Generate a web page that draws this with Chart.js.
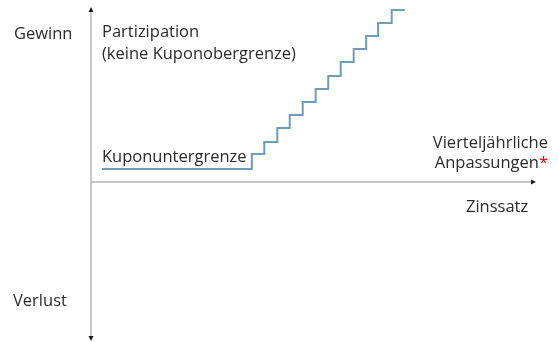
<!DOCTYPE html>
<html lang="de">
<head>
<meta charset="utf-8">
<script src="https://cdn.jsdelivr.net/npm/chart.js@4"></script>
<style>
  html, body { margin: 0; padding: 0; background: #fff; }
  #wrap { width: 558px; height: 342px; }
</style>
</head>
<body>
<div id="wrap"><canvas id="myChart"></canvas></div>
<script>
'use strict';

// Zinssatz-Stufen (x) und Kuponniveau (y), Einheit = eine vierteljährliche Anpassung
const rateSteps = [0.86, 12.65, 13.63, 14.65, 15.63, 16.65, 17.67, 18.66, 19.64, 20.66, 21.64, 22.58, 23.65, 24.67];
const couponLevels = [1, 2.14, 3.05, 4.12, 5.11, 6.1, 7.1, 8.09, 9.16, 10.15, 11.15, 12.14, 13.13, 13.13];

// Achsenbereich
const xRange = [0, 35];
const yRange = [-12.14, 13.36];

const points = rateSteps.map((x, i) => ({ x: x, y: couponLevels[i] }));

const textColor = '#2b2b2b';
const axisColor = '#b4b4b4';
const fontFamily = '"Open Sans", "Noto Sans", sans-serif';

// Achsen mit Pfeilspitzen
const axesPlugin = {
  id: 'axes',
  beforeDatasetsDraw(chart) {
    const c = chart.ctx;
    const xs = chart.scales.x;
    const ys = chart.scales.y;
    const x0 = xs.getPixelForValue(0);
    const y0 = ys.getPixelForValue(0);
    const top = ys.getPixelForValue(yRange[1]);
    const bottom = ys.getPixelForValue(yRange[0]);
    const right = xs.getPixelForValue(xRange[1]);

    c.save();
    c.strokeStyle = axisColor;
    c.lineWidth = 1.5;
    c.beginPath();
    c.moveTo(x0, top + 2);
    c.lineTo(x0, bottom - 2);
    c.moveTo(x0, y0);
    c.lineTo(right - 2, y0);
    c.stroke();

    c.fillStyle = '#1a1a1a';
    c.beginPath();
    c.moveTo(x0, top);
    c.lineTo(x0 - 2.5, top + 5);
    c.lineTo(x0 + 2.5, top + 5);
    c.closePath();
    c.fill();
    c.beginPath();
    c.moveTo(x0, bottom);
    c.lineTo(x0 - 2.5, bottom - 5);
    c.lineTo(x0 + 2.5, bottom - 5);
    c.closePath();
    c.fill();
    c.beginPath();
    c.moveTo(right, y0);
    c.lineTo(right - 5, y0 - 2.5);
    c.lineTo(right - 5, y0 + 2.5);
    c.closePath();
    c.fill();
    c.restore();
  }
};

// Beschriftungen
const labelsPlugin = {
  id: 'labels',
  afterDraw(chart) {
    const c = chart.ctx;
    c.save();
    c.font = '16.5px ' + fontFamily;
    c.fillStyle = textColor;
    c.textBaseline = 'alphabetic';
    c.textAlign = 'left';
    c.fillText('Gewinn', 14, 39);
    c.fillText('Verlust', 13, 306);
    c.fillText('Partizipation', 102, 37);
    c.fillText('(keine Kuponobergrenze)', 102, 59);
    c.fillText('Kuponuntergrenze', 102, 162);
    c.fillText('Zinssatz', 466, 212);

    c.textAlign = 'right';
    c.fillText('Vierteljährliche', 548, 148);
    const star = '*';
    const starW = c.measureText(star).width;
    c.fillText('Anpassungen', 548 - starW, 168);
    c.fillStyle = '#e60000';
    c.fillText(star, 548, 168);
    c.restore();
  }
};

new Chart(document.getElementById('myChart'), {
  type: 'line',
  data: {
    datasets: [{
      data: points,
      stepped: true,
      borderColor: '#6f9cb8',
      borderWidth: 2,
      pointRadius: 0,
      fill: false
    }]
  },
  options: {
    responsive: true,
    maintainAspectRatio: false,
    animation: false,
    events: [],
    layout: {
      padding: { left: 91, right: 22, top: 7, bottom: 1 }
    },
    plugins: {
      legend: { display: false },
      tooltip: { enabled: false }
    },
    scales: {
      x: {
        type: 'linear',
        min: xRange[0],
        max: xRange[1],
        display: false
      },
      y: {
        type: 'linear',
        min: yRange[0],
        max: yRange[1],
        display: false
      }
    }
  },
  plugins: [axesPlugin, labelsPlugin]
});
</script>
</body>
</html>
